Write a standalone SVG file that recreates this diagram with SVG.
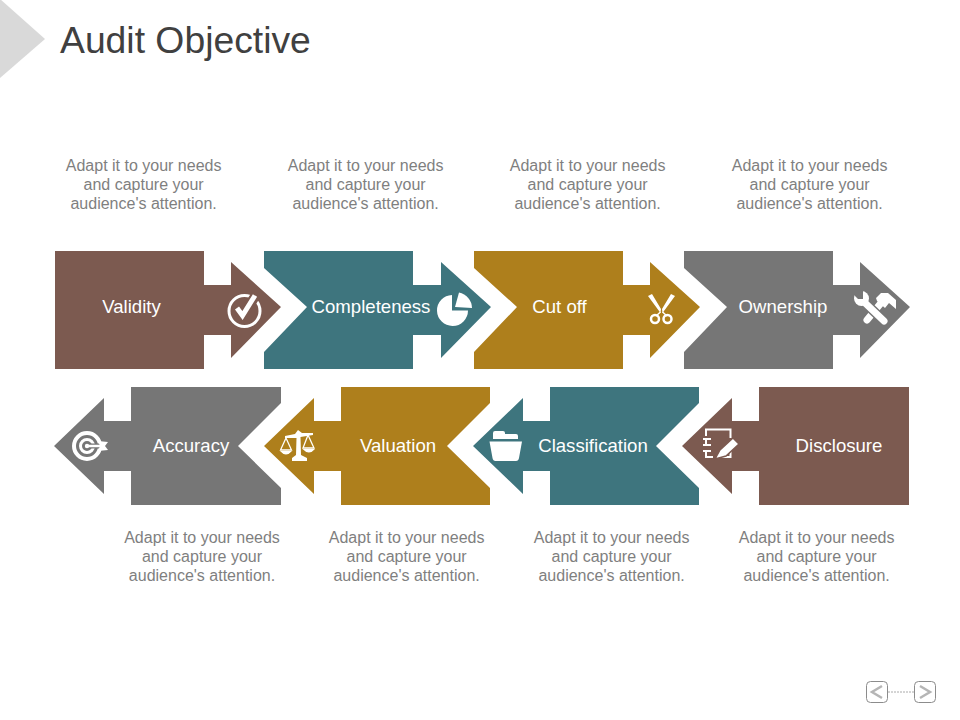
<svg xmlns="http://www.w3.org/2000/svg" width="960" height="720" viewBox="0 0 960 720">
<style>
text{font-family:"Liberation Sans",Arial,sans-serif}
.d{font-size:16px;fill:#7f7f7f;text-anchor:middle}
.l{font-size:18.600px;fill:#fff;text-anchor:middle}
.brown{fill:#7c5a50}.teal{fill:#3e757e}.gold{fill:#ae7f1c}.gray{fill:#767676}
.i{fill:#fff}.s{fill:none;stroke:#fff;stroke-width:3}
</style>
<rect width="960" height="720" fill="#fff"/>
<g id="header">
<polygon points="0,-1 45,39 0,78" fill="#d9d9d9"/>
<text x="60" y="53" font-size="37.300" fill="#404040">Audit Objective</text>
</g>
<g id="node-validity">
<polygon class="brown" points="55,251 204,251 204,285 231,285 231,262 281,307 231,358 231,335 204,335 204,369 55,369"/>
<text class="l" x="131.500" y="312.500">Validity</text>
<circle class="s" cx="244.500" cy="311" r="15.500"/>
<path d="M236,309l6,7 14,-21" fill="none" stroke="#7c5a50" stroke-width="10"/>
<path d="M237,308l5.500,7.500 12.500,-20" fill="none" stroke="#fff" stroke-width="5"/>
</g>
<g id="node-completeness">
<polygon class="teal" points="264,251 413,251 413,285 441,285 441,262 491,307 441,358 441,335 413,335 413,369 264,369 264,352 307,307 264,268"/>
<text class="l" x="371" y="312.500">Completeness</text>
<path class="i" d="M452,295V310.500H468A15.500,15.500 0 1 1 452,295Z"/>
<path class="i" d="M459,292.500A16,16 0 0 1 472,308L455,307Z"/>
</g>
<g id="node-cutoff">
<polygon class="gold" points="474,251 623,251 623,285 650,285 650,262 700,307 650,358 650,335 623,335 623,369 474,369 474,352 517,307 474,268"/>
<text class="l" x="559.500" y="312.500">Cut off</text>
<path class="i" d="M648,296L652,294L661,309L660.500,313ZM675,296L671,294L662,309L662.500,313Z"/>
<path d="M660.500,312L656,316M662.500,312L667,316" fill="none" stroke="#fff" stroke-width="1.500"/>
<circle cx="655" cy="319" r="4" fill="none" stroke="#fff" stroke-width="2.500"/>
<circle cx="667.500" cy="319" r="4" fill="none" stroke="#fff" stroke-width="2.500"/>
</g>
<g id="node-ownership">
<polygon class="gray" points="684,251 833,251 833,285 860,285 860,262 910,307 860,358 860,335 833,335 833,369 684,369 684,352 727,307 684,268"/>
<text class="l" x="783" y="312.500">Ownership</text>
<path d="M867,320L881,303" fill="none" stroke="#fff" stroke-width="7" stroke-linecap="round"/>
<path class="i" d="M876,298L881,293L888,293L896,300L896,309L889,303L885,308L877,301Z"/>
<path d="M863,301L884,321" fill="none" stroke="#767676" stroke-width="10"/>
<path d="M863,301L884,321" fill="none" stroke="#fff" stroke-width="7" stroke-linecap="round"/>
<circle cx="861.500" cy="298.500" r="7.500" class="i"/>
<polygon class="gray" points="854,291 863,291 863,299 858,299 855,296"/>
</g>
<g id="node-accuracy">
<polygon class="gray" points="54,446 104,398 104,421 131,421 131,387 281,387 281,403 238,446 281,488 281,505 131,505 131,471 104,471 104,494"/>
<text class="l" x="191" y="451.500">Accuracy</text>
<circle cx="87" cy="446" r="13" fill="none" stroke="#fff" stroke-width="4"/>
<circle cx="87" cy="446" r="6.500" fill="none" stroke="#fff" stroke-width="3"/>
<circle cx="87" cy="446" r="2.200" class="i"/>
<path d="M90,446H102" stroke="#767676" stroke-width="5"/>
<path d="M88,446H102" stroke="#fff" stroke-width="2.500"/>
<path class="i" d="M98,441L108,442L105,446L108,450L98,451L100,446Z"/>
</g>
<g id="node-valuation">
<polygon class="gold" points="264,446 314,398 314,421 341,421 341,387 490,387 490,403 447,446 490,488 490,505 341,505 341,471 314,471 314,494"/>
<text class="l" x="398" y="451.500">Valuation</text>
<path class="i" d="M285,436L295,434L298,430L302,433L313,433L313,435L300.500,437L301,455L307,458V461H292V458L296,455L296.500,438L285,438Z"/>
<path d="M286,438L280.500,450H291.500ZM308,435L303,448H314Z" fill="none" stroke="#fff" stroke-width="1.300"/>
<path class="i" d="M280,451H292Q286,458 280,451ZM302.500,449H315Q309,456 302.500,449Z"/>
</g>
<g id="node-classification">
<polygon class="teal" points="473,446 523,398 523,421 550,421 550,387 699,387 699,403 656,446 699,488 699,505 550,505 550,471 523,471 523,494"/>
<text class="l" x="593" y="451.500">Classification</text>
<path class="i" d="M493,439V433Q493,431 495,431H503Q505,431 505,433V434H516Q518,434 518,436V439Z"/>
<path class="i" d="M489.500,441.500H522L519,458Q518.500,461 516,461H495.500Q493,461 492.500,458Z"/>
</g>
<g id="node-disclosure">
<polygon class="brown" points="682,446 732,398 732,421 759,421 759,387 909,387 909,505 759,505 759,471 732,471 732,494"/>
<text class="l" x="839" y="451.500">Disclosure</text>
<path d="M706,436V429.500H730.500V438M730.500,450V457H721M706,440V446M706,452V457H713" fill="none" stroke="#fff" stroke-width="2"/>
<path d="M703,439H711M703,445H711M703,451H711" stroke="#fff" stroke-width="2.200"/>
<path d="M720,450L733,438L739,444L726,456L715,459Z" fill="#fff" stroke="#7c5a50" stroke-width="1.500"/>
</g>
<g id="descriptions">
<text class="d" x="143.600" y="171">Adapt it to your needs</text><text class="d" x="143.600" y="190">and capture your</text><text class="d" x="143.600" y="209">audience's attention.</text>
<text class="d" x="365.600" y="171">Adapt it to your needs</text><text class="d" x="365.600" y="190">and capture your</text><text class="d" x="365.600" y="209">audience's attention.</text>
<text class="d" x="587.600" y="171">Adapt it to your needs</text><text class="d" x="587.600" y="190">and capture your</text><text class="d" x="587.600" y="209">audience's attention.</text>
<text class="d" x="809.600" y="171">Adapt it to your needs</text><text class="d" x="809.600" y="190">and capture your</text><text class="d" x="809.600" y="209">audience's attention.</text>
<text class="d" x="202" y="543">Adapt it to your needs</text><text class="d" x="202" y="562">and capture your</text><text class="d" x="202" y="581">audience's attention.</text>
<text class="d" x="406.600" y="543">Adapt it to your needs</text><text class="d" x="406.600" y="562">and capture your</text><text class="d" x="406.600" y="581">audience's attention.</text>
<text class="d" x="611.600" y="543">Adapt it to your needs</text><text class="d" x="611.600" y="562">and capture your</text><text class="d" x="611.600" y="581">audience's attention.</text>
<text class="d" x="816.600" y="543">Adapt it to your needs</text><text class="d" x="816.600" y="562">and capture your</text><text class="d" x="816.600" y="581">audience's attention.</text>
</g>
<g id="connectors">
<path d="M888,692H914" stroke="#aaa" stroke-width="1" stroke-dasharray="2 1" fill="none"/>
</g>
<g id="nav">
<rect x="866.500" y="681.500" width="21" height="21" rx="4" fill="#fff" stroke="#8c8c8c" stroke-width="1"/>
<path d="M882,686L872,692L882,698" fill="none" stroke="#b5b5b5" stroke-width="2.500"/>
<rect x="914.500" y="681.500" width="21" height="21" rx="4" fill="#fff" stroke="#8c8c8c" stroke-width="1"/>
<path d="M920,686L930,692L920,698" fill="none" stroke="#b5b5b5" stroke-width="2.500"/>
</g>
</svg>
